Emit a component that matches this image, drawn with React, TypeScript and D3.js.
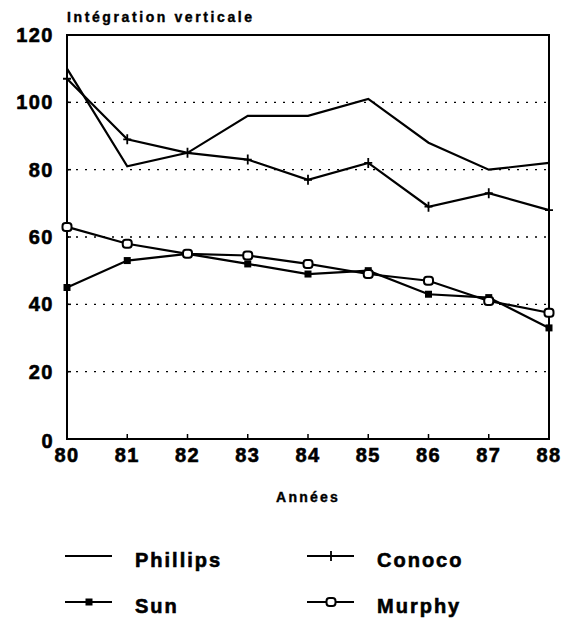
import * as d3 from "d3";

const years = [80, 81, 82, 83, 84, 85, 86, 87, 88];
const phillips = [110, 81, 85, 96, 96, 101, 88, 80, 82];
const conoco = [107, 89, 85, 83, 77, 82, 69, 73, 68];
const sun = [45, 53, 55, 52, 49, 50, 43, 42, 33];
const murphy = [63, 58, 55, 54.5, 52, 49, 47, 41, 37.5];
const yTicks = [0, 20, 40, 60, 80, 100, 120];

const margin = { top: 35, right: 25, bottom: 184, left: 67 };
const W = 574;
const H = 623;
const font = "'Liberation Sans', Arial, sans-serif";

const x = d3
  .scaleLinear()
  .domain([80, 88])
  .range([margin.left, W - margin.right]);
const y = d3
  .scaleLinear()
  .domain([0, 120])
  .range([H - margin.bottom, margin.top]);

const line = d3
  .line<number>()
  .x((_, i) => x(years[i]))
  .y((d) => y(d));

type Mark = "none" | "plus" | "filled" | "open";

function Marker({ cx, cy, type }: { cx: number; cy: number; type: Mark }) {
  if (type === "plus")
    return (
      <path
        d={`M${cx - 4},${cy}H${cx + 4}M${cx},${cy - 5}V${cy + 5}`}
        stroke="#000"
        strokeWidth={1.8}
      />
    );
  if (type === "filled")
    return <rect x={cx - 3.5} y={cy - 3.5} width={7} height={7} fill="#000" />;
  if (type === "open")
    return (
      <rect
        x={cx - 4.5}
        y={cy - 4}
        width={9}
        height={8}
        rx={3}
        fill="#fff"
        stroke="#000"
        strokeWidth={2}
      />
    );
  return null;
}

const series: { name: string; values: number[]; mark: Mark }[] = [
  { name: "Phillips", values: phillips, mark: "none" },
  { name: "Conoco", values: conoco, mark: "plus" },
  { name: "Sun", values: sun, mark: "filled" },
  { name: "Murphy", values: murphy, mark: "open" },
];

// legend layout: two columns, two rows
const legendPos = [
  { lx: 65, ly: 556 },
  { lx: 307, ly: 556 },
  { lx: 65, ly: 602 },
  { lx: 307, ly: 602 },
];

// heavier strokes on text to mimic the printed look
const ink = { stroke: "#000", strokeWidth: 0.6 };

export default function App() {
  const [x0, x1] = x.range();
  const [yb, yt] = y.range();
  return (
    <svg
      width={W}
      height={H}
      style={{ position: "absolute", left: 0, top: 0, background: "#fff" }}
      fontFamily={font}
      fontWeight="bold"
    >
      <rect width={W} height={H} fill="#fff" />

      {/* gridlines */}
      {yTicks
        .filter((t) => t > 0 && t < 120)
        .map((t) => (
          <line
            key={t}
            x1={x0}
            x2={x1}
            y1={y(t)}
            y2={y(t)}
            stroke="#000"
            strokeWidth={1.4}
            strokeDasharray="2,7"
          />
        ))}

      {/* frame */}
      <rect
        x={x0}
        y={yt}
        width={x1 - x0}
        height={yb - yt}
        fill="none"
        stroke="#000"
        strokeWidth={2}
      />

      {/* y ticks and labels */}
      {yTicks.map((t) => (
        <g key={t}>
          <line x1={x0} x2={x0 + 4} y1={y(t)} y2={y(t)} stroke="#000" strokeWidth={1.5} />
          <text
            x={x0 - 13}
            y={y(t) + (t === 0 ? 2 : 0)}
            textAnchor="end"
            dominantBaseline="central"
            fontSize={20}
            letterSpacing={1.5}
            {...ink}
          >
            {t}
          </text>
        </g>
      ))}

      {/* x ticks and labels */}
      {years.map((yr) => (
        <g key={yr}>
          <line x1={x(yr)} x2={x(yr)} y1={yb} y2={yb - 5} stroke="#000" strokeWidth={1.5} />
          <text
            x={x(yr)}
            y={yb + 23}
            textAnchor="middle"
            fontSize={20}
            letterSpacing={1.5}
            {...ink}
          >
            {yr}
          </text>
        </g>
      ))}

      <text
        x={(x0 + x1) / 2}
        y={502}
        textAnchor="middle"
        fontSize={14}
        letterSpacing={2.2}
        stroke="#000"
        strokeWidth={0.4}
      >
        Années
      </text>
      <text x={x0} y={22} fontSize={14} letterSpacing={2.6} stroke="#000" strokeWidth={0.4}>
        Intégration verticale
      </text>

      {/* series */}
      {series.map((s) => (
        <g key={s.name}>
          <path d={line(s.values) ?? ""} fill="none" stroke="#000" strokeWidth={2.2} />
          {s.values.map((v, i) => (
            <Marker key={i} cx={x(years[i])} cy={y(v)} type={s.mark} />
          ))}
        </g>
      ))}

      {/* legend */}
      {series.map((s, i) => {
        const { lx, ly } = legendPos[i];
        return (
          <g key={s.name}>
            <line x1={lx} x2={lx + 47} y1={ly} y2={ly} stroke="#000" strokeWidth={2} />
            <Marker cx={lx + 24} cy={ly} type={s.mark} />
            <text x={lx + 70} y={ly + 11} fontSize={20} letterSpacing={2} {...ink}>
              {s.name}
            </text>
          </g>
        );
      })}
    </svg>
  );
}
